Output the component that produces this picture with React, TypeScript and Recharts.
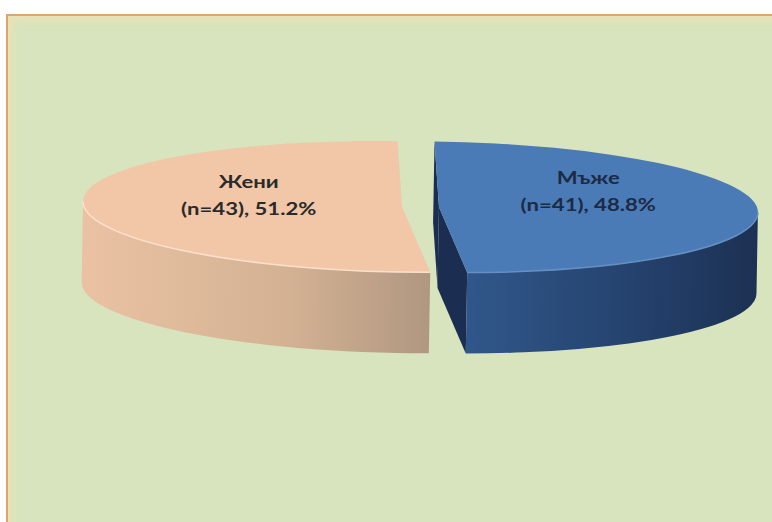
import React from 'react';
import { PieChart, Pie } from 'recharts';

const categories = ['Мъже', 'Жени'];
const counts = [41, 43];
const percentLabels = ['48.8%', '51.2%'];

const data = categories.map((name, i) => ({ name, value: counts[i], pct: percentLabels[i] }));

const TILT = 0.205;
const DEPTH = 81;
const EXPLODE = [37, 0];
const ROT = 1.0;
const RAD = Math.PI / 180;

const STYLES = [
  { top: '#4a7bb7', topEdge: '#6690c4', sideA: '#30578a', sideB: '#24416c', sideC: '#1c3153', cut: '#1b2e52', text: '#1c2a44' },
  { top: '#f1c7a8', topEdge: '#fbe0cb', sideA: '#eac2a3', sideB: '#d3b193', sideC: '#b09781', cut: '#c4a287', text: '#2a2a2a' },
];

const idxOf = (p: any) => {
  const n = p?.payload?.name ?? p?.name;
  const i = categories.indexOf(n);
  return i < 0 ? 0 : i;
};

const pt = (cx: number, cy: number, r: number, a: number): [number, number] => [
  cx + r * Math.cos(a * RAD),
  cy - r * TILT * Math.sin(a * RAD),
];

const Slice3D = (props: any) => {
  const { cx: cx0, cy: cy0, outerRadius: r, startAngle: sA, endAngle: eA } = props;
  const i = idxOf(props);
  const st = STYLES[i];
  const mid = (sA + eA) / 2;
  const cx = cx0 + EXPLODE[i] * Math.cos(mid * RAD);
  const cy = cy0 - EXPLODE[i] * TILT * Math.sin(mid * RAD);
  const lo = Math.min(sA, eA);
  const hi = Math.max(sA, eA);

  const sides: [number, number][] = [];
  for (let n = -3; n <= 3; n++) {
    const a = Math.max(lo, 180 + 360 * n);
    const b = Math.min(hi, 360 + 360 * n);
    if (b > a) sides.push([a, b]);
  }
  const rx = r, ry = r * TILT;
  const sidePaths = sides.map(([a, b]) => {
    const pa = pt(cx, cy, r, a);
    const pb = pt(cx, cy, r, b);
    const large = b - a > 180 ? 1 : 0;
    return `M${pa[0]},${pa[1]} A${rx},${ry} 0 ${large} 0 ${pb[0]},${pb[1]} L${pb[0]},${pb[1] + DEPTH} A${rx},${ry} 0 ${large} 1 ${pa[0]},${pa[1] + DEPTH} Z`;
  });

  const cuts: string[] = [];
  const addCut = (ang: number) => {
    const p = pt(cx, cy, r, ang);
    cuts.push(`M${cx},${cy} L${p[0]},${p[1]} L${p[0]},${p[1] + DEPTH} L${cx},${cy + DEPTH} Z`);
  };
  if (Math.cos(sA * RAD) < -1e-6) addCut(sA);
  if (Math.cos(eA * RAD) > 1e-6) addCut(eA);

  const ps = pt(cx, cy, r, sA);
  const pe = pt(cx, cy, r, eA);
  const largeTop = hi - lo > 180 ? 1 : 0;
  const sweep = eA < sA ? 1 : 0;
  const topPath = `M${cx},${cy} L${ps[0]},${ps[1]} A${rx},${ry} 0 ${largeTop} ${sweep} ${pe[0]},${pe[1]} Z`;
  const frontArcs = sides.map(([a, b]) => {
    const pa = pt(cx, cy, r, a);
    const pb = pt(cx, cy, r, b);
    const large = b - a > 180 ? 1 : 0;
    return `M${pa[0]},${pa[1]} A${rx},${ry} 0 ${large} 0 ${pb[0]},${pb[1]}`;
  });
  const gid = `side-grad-${i}`;
  return (
    <g transform={`rotate(${ROT}, ${cx0 + 17}, ${cy0})`}>
      <defs>
        <linearGradient id={gid} x1="0" y1="0" x2="1" y2="0">
          <stop offset="0%" stopColor={st.sideA} />
          <stop offset="60%" stopColor={st.sideB} />
          <stop offset="100%" stopColor={st.sideC} />
        </linearGradient>
      </defs>
      {cuts.map((d, k) => (
        <path key={`c${k}`} d={d} fill={st.cut} />
      ))}
      {sidePaths.map((d, k) => (
        <path key={`s${k}`} d={d} fill={`url(#${gid})`} />
      ))}
      <path d={topPath} fill={st.top} />
      {frontArcs.map((d, k) => (
        <path key={`e${k}`} d={d} fill="none" stroke={st.topEdge} strokeWidth={1.5} />
      ))}
    </g>
  );
};

const renderLabel = (props: any) => {
  const { cx: cx0, cy: cy0, outerRadius: r, midAngle } = props;
  const i = idxOf(props);
  const st = STYLES[i];
  const cx = cx0 + EXPLODE[i] * Math.cos(midAngle * RAD);
  const cy = cy0 - EXPLODE[i] * TILT * Math.sin(midAngle * RAD);
  const [x, y] = pt(cx, cy, r * 0.475, midAngle);
  const common = {
    textAnchor: 'middle' as const,
    dominantBaseline: 'central' as const,
    fontFamily: "Lato, 'Open Sans', sans-serif",
    fontWeight: 700,
    fontSize: 17,
    fill: st.text,
  };
  return (
    <g>
      <text {...common} transform={`translate(${x - 2}, ${y - 27}) scale(1.3, 1)`}>
        {categories[i]}
      </text>
      <text {...common} transform={`translate(${x - 2}, ${y}) scale(1.3, 1)`}>
        {`(n=${counts[i]}), ${percentLabels[i]}`}
      </text>
    </g>
  );
};

export default function App() {
  return (
    <div style={{ position: 'fixed', left: 0, top: 0, width: 772, height: 522, overflow: 'hidden', background: '#ffffff' }}>
      <div
        style={{
          position: 'absolute',
          left: 6,
          top: 14,
          width: 780,
          height: 520,
          background: '#d7e4bd',
          borderLeft: '2px solid #dca66e',
          borderTop: '2px solid #dca66e',
          boxShadow: 'inset 4px 4px 8px rgba(245,225,180,0.7)',
        }}
      />
      <PieChart width={772} height={522} style={{ position: 'absolute', left: 0, top: 0 }}>
        <Pie
          data={data}
          dataKey="value"
          nameKey="name"
          cx={397}
          cy={202}
          outerRadius={319}
          startAngle={91}
          endAngle={91 - 360}
          stroke="none"
          labelLine={false}
          label={renderLabel}
          shape={Slice3D}
          isAnimationActive={false}
        />
      </PieChart>
    </div>
  );
}
